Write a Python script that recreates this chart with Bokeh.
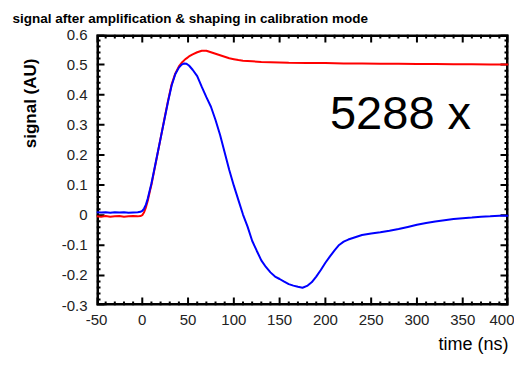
import math
import numpy as np
from bokeh.plotting import figure
from bokeh.models import LinearAxis, FixedTicker, Label, Range1d, Title
from bokeh.embed import file_html
from bokeh.resources import INLINE

# pulse time axis (ns) and the two shaper outputs (arbitrary units)
t_blue = [-50, -45, -40, -35, -30, -25, -20, -15, -10, -5, -2, 0, 2, 4, 6, 8, 10,
          13, 16, 20, 24, 28, 32, 36, 40, 43, 46, 48, 51, 55, 60, 65, 70, 75, 80,
          85, 90, 95, 100, 105, 110, 115, 120, 125, 130, 135, 140, 145, 150, 155,
          160, 165, 170, 175, 180, 185, 190, 195, 200, 205, 210, 215, 220, 225,
          230, 240, 250, 260, 270, 280, 290, 300, 310, 320, 330, 340, 350, 360,
          370, 380, 390, 400]
v_blue = [0.010, 0.009, 0.010, 0.008, 0.010, 0.009, 0.010, 0.008, 0.009, 0.010,
          0.011, 0.014, 0.022, 0.035, 0.055, 0.080, 0.105, 0.150, 0.195, 0.255,
          0.315, 0.375, 0.430, 0.468, 0.490, 0.500, 0.504, 0.503, 0.497, 0.483,
          0.462, 0.426, 0.392, 0.360, 0.316, 0.266, 0.208, 0.150, 0.098, 0.050,
          0.002, -0.038, -0.085, -0.118, -0.150, -0.172, -0.190, -0.204, -0.212,
          -0.221, -0.229, -0.234, -0.238, -0.241, -0.235, -0.223, -0.204, -0.182,
          -0.158, -0.137, -0.117, -0.099, -0.088, -0.081, -0.076, -0.066, -0.061,
          -0.057, -0.052, -0.046, -0.039, -0.032, -0.026, -0.021, -0.017, -0.013,
          -0.010, -0.008, -0.005, -0.004, -0.002, -0.002]

t_red = [-50, -45, -40, -35, -30, -25, -20, -15, -10, -5, -2, 0, 2, 4, 6, 8, 10,
         13, 16, 20, 24, 28, 32, 36, 40, 43, 46, 48, 51, 55, 60, 65, 70, 75, 80,
         85, 90, 95, 100, 105, 110, 120, 130, 140, 150, 160, 180, 200, 220, 240,
         260, 280, 300, 320, 340, 360, 380, 400]
v_red = [-0.004, -0.005, -0.003, -0.005, -0.004, -0.003, -0.005, -0.004, -0.003,
         -0.004, -0.003, 0.000, 0.010, 0.026, 0.048, 0.075, 0.101, 0.147, 0.193,
         0.255, 0.317, 0.378, 0.434, 0.470, 0.494, 0.506, 0.515, 0.520, 0.527,
         0.534, 0.541, 0.546, 0.546, 0.541, 0.536, 0.531, 0.526, 0.521, 0.518,
         0.515, 0.513, 0.511, 0.509, 0.508, 0.507, 0.506, 0.505, 0.505, 0.504,
         0.504, 0.503, 0.503, 0.502, 0.502, 0.501, 0.501, 0.500, 0.500]

x_ticks = [-50, 0, 50, 100, 150, 200, 250, 300, 350, 400]
x_labels = ["-50", "0", "50", "100", "150", "200", "250", "300", "350", "400"]
y_ticks = [-0.3, -0.2, -0.1, 0.0, 0.1, 0.2, 0.3, 0.4, 0.5, 0.6]
y_labels = ["-0.3", "-0.2", "-0.1", "0", "0.1", "0.2", "0.3", "0.4", "0.5", "0.6"]

X0, X1 = -50, 400
Y0, Y1 = -0.3, 0.6
FONT = "Liberation Sans"

W, H = 514, 367
BL, BR, BT, BB = 96, 6, 34, 62

p = figure(width=W, height=H, output_backend="svg", toolbar_location=None,
           x_range=Range1d(X0, X1), y_range=Range1d(Y0, Y1),
           x_axis_location=None, y_axis_location=None,
           min_border_left=BL, min_border_right=BR, min_border_top=BT,
           min_border_bottom=BB)
p.xgrid.visible = False
p.ygrid.visible = False
p.background_fill_color = "white"
p.border_fill_color = "white"
p.outline_line_color = None

p.title.text = "signal after amplification & shaping in calibration mode"
p.title.text_font = FONT
p.title.text_font_size = "13.5px"
p.title.text_font_style = "bold"
p.title.text_color = "black"
p.title.align = "left"
p.title.offset = -84
p.title.standoff = 17


def make_axis(ticks, labels):
    ax = LinearAxis(ticker=FixedTicker(ticks=ticks, minor_ticks=[]))
    ax.major_label_overrides = {t: l for t, l in zip(ticks, labels)}
    ax.axis_line_color = None
    ax.major_tick_line_color = None
    ax.minor_tick_line_color = None
    ax.major_tick_in = 0
    ax.major_tick_out = 0
    ax.major_label_text_font = FONT
    ax.major_label_text_font_size = "15px"
    ax.major_label_text_color = "#222222"
    ax.major_label_standoff = 9
    return ax


p.add_layout(make_axis(x_ticks, x_labels), "below")
p.add_layout(make_axis(y_ticks, y_labels), "left")
p.add_layout(Title(text="signal (AU)", align="right", offset=24, standoff=37,
                   text_font=FONT, text_font_size="17px", text_font_style="bold",
                   text_color="black"), "left")
p.add_layout(Title(text="time (ns)", align="right", offset=0, standoff=9,
                   text_font=FONT, text_font_size="18px", text_font_style="normal",
                   text_color="black"), "below")

# inward tick marks on all four sides of the frame, drawn as one broken path
ux = (X1 - X0) / (W - BL - BR)      # data units per pixel, horizontal
uy = (Y1 - Y0) / (H - BT - BB)      # data units per pixel, vertical
MAJ, MIN = 8, 4                      # tick lengths in pixels
GAP = float("nan")

x_minor = [float(v) for v in np.arange(X0, X1 + 1, 10) if v % 50 != 0]
y_minor = [round(float(v), 2) for v in np.arange(Y0, Y1 + 0.001, 0.02)]
y_minor = [v for v in y_minor if abs(v * 10 - round(v * 10)) > 1e-6]

tx, ty = [], []
for xs, L in ((x_ticks, MAJ), (x_minor, MIN)):
    for x in xs:
        tx += [x, x, GAP, x, x, GAP]
        ty += [Y0, Y0 + L * uy, GAP, Y1, Y1 - L * uy, GAP]
for ys, L in ((y_ticks, MAJ), (y_minor, MIN)):
    for y in ys:
        tx += [X0, X0 + L * ux, GAP, X1, X1 - L * ux, GAP]
        ty += [y, y, GAP, y, y, GAP]
p.line(tx, ty, line_color="black", line_width=2)

# frame border as a closed path; half of the stroke falls inside the frame
p.line([X0, X1, X1, X0, X0], [Y0, Y0, Y1, Y1, Y0], line_color="black",
       line_width=5)

p.line(t_red, v_red, line_color="#ff0000", line_width=2)
p.line(t_blue, v_blue, line_color="#0000ff", line_width=2)

p.add_layout(Label(x=205, y=0.34, text="5288 x", text_font=FONT,
                   text_font_size="47px", text_align="left",
                   text_baseline="middle", text_color="black"))

open("out.html", "w").write(file_html(p, INLINE))
